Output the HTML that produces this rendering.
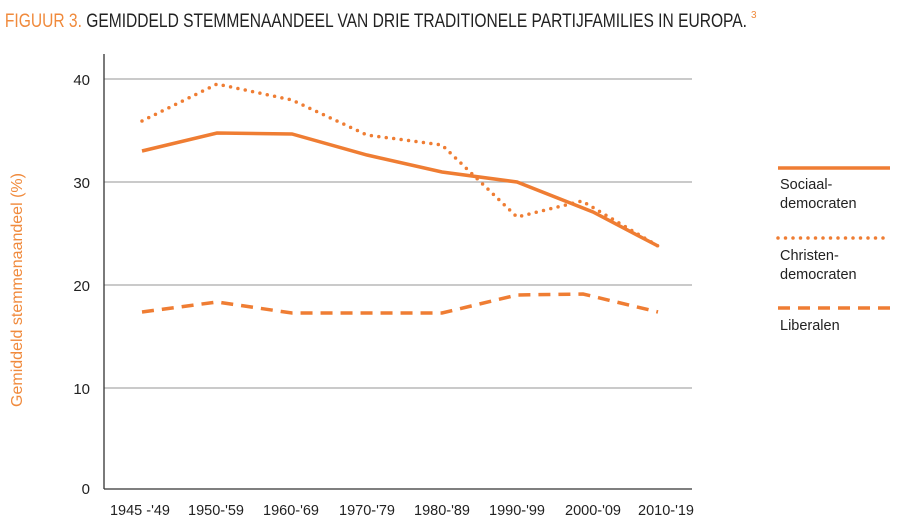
<!DOCTYPE html>
<html><head><meta charset="utf-8"><style>
body{margin:0;background:#fff;width:900px;height:523px;overflow:hidden;font-family:"Liberation Sans",sans-serif}
</style></head><body>
<svg width="900" height="523" xmlns="http://www.w3.org/2000/svg" font-family="Liberation Sans, sans-serif">
<text x="6" y="27" font-size="19" transform="scale(0.82,1)" textLength="905" lengthAdjust="spacingAndGlyphs"><tspan fill="#f08a3c">FIGUUR 3.</tspan><tspan fill="#222"> GEMIDDELD STEMMENAANDEEL VAN DRIE TRADITIONELE PARTIJFAMILIES IN EUROPA.</tspan></text>
<text x="751" y="18" font-size="10" fill="#f08a3c">3</text>
<g stroke="#aaa" stroke-width="1.3">
<line x1="104" y1="79" x2="692" y2="79"/><line x1="104" y1="182" x2="692" y2="182"/><line x1="104" y1="285" x2="692" y2="285"/><line x1="104" y1="388" x2="692" y2="388"/>
</g>
<line x1="104" y1="54" x2="104" y2="489" stroke="#333" stroke-width="1.3"/>
<line x1="104" y1="489" x2="692" y2="489" stroke="#333" stroke-width="1.3"/>
<g font-size="15" fill="#222" text-anchor="end">
<text x="90" y="85">40</text><text x="90" y="188">30</text><text x="90" y="291">20</text><text x="90" y="394">10</text><text x="90" y="494">0</text>
</g>
<g font-size="14.5" fill="#222" text-anchor="middle">
<text x="140" y="515">1945 -'49</text><text x="216" y="515">1950-'59</text><text x="291" y="515">1960-'69</text><text x="367" y="515">1970-'79</text><text x="442" y="515">1980-'89</text><text x="517" y="515">1990-'99</text><text x="593" y="515">2000-'09</text><text x="666" y="515">2010-'19</text>
</g>
<text transform="translate(22,290) rotate(-90)" font-size="16" fill="#f08a3c" text-anchor="middle">Gemiddeld stemmenaandeel (%)</text>
<g fill="none" stroke="#ef7d33" stroke-width="3.5">
<polyline points="142,151 217,133 292,134 367,155 442,172 517,182 593,212 658,246"/>
<polyline stroke-dasharray="0 7.5" stroke-linecap="round" points="142,121 217,84 292,100 367,135 442,145 517,217 582,201 658,246"/>
<polyline stroke-dasharray="12 8" points="142,312 217,302 292,313 367,313 442,313 517,295 583,294 658,312"/>
<line x1="778" y1="168" x2="890" y2="168"/>
<line x1="778" y1="238" x2="890" y2="238" stroke-dasharray="0 7.5" stroke-linecap="round"/>
<line x1="778" y1="308" x2="890" y2="308" stroke-dasharray="12 8"/>
</g>
<g font-size="14.5" fill="#222">
<text x="780" y="189">Sociaal-</text><text x="780" y="208">democraten</text>
<text x="780" y="260">Christen-</text><text x="780" y="279">democraten</text>
<text x="780" y="330">Liberalen</text>
</g>
</svg>
</body></html>
